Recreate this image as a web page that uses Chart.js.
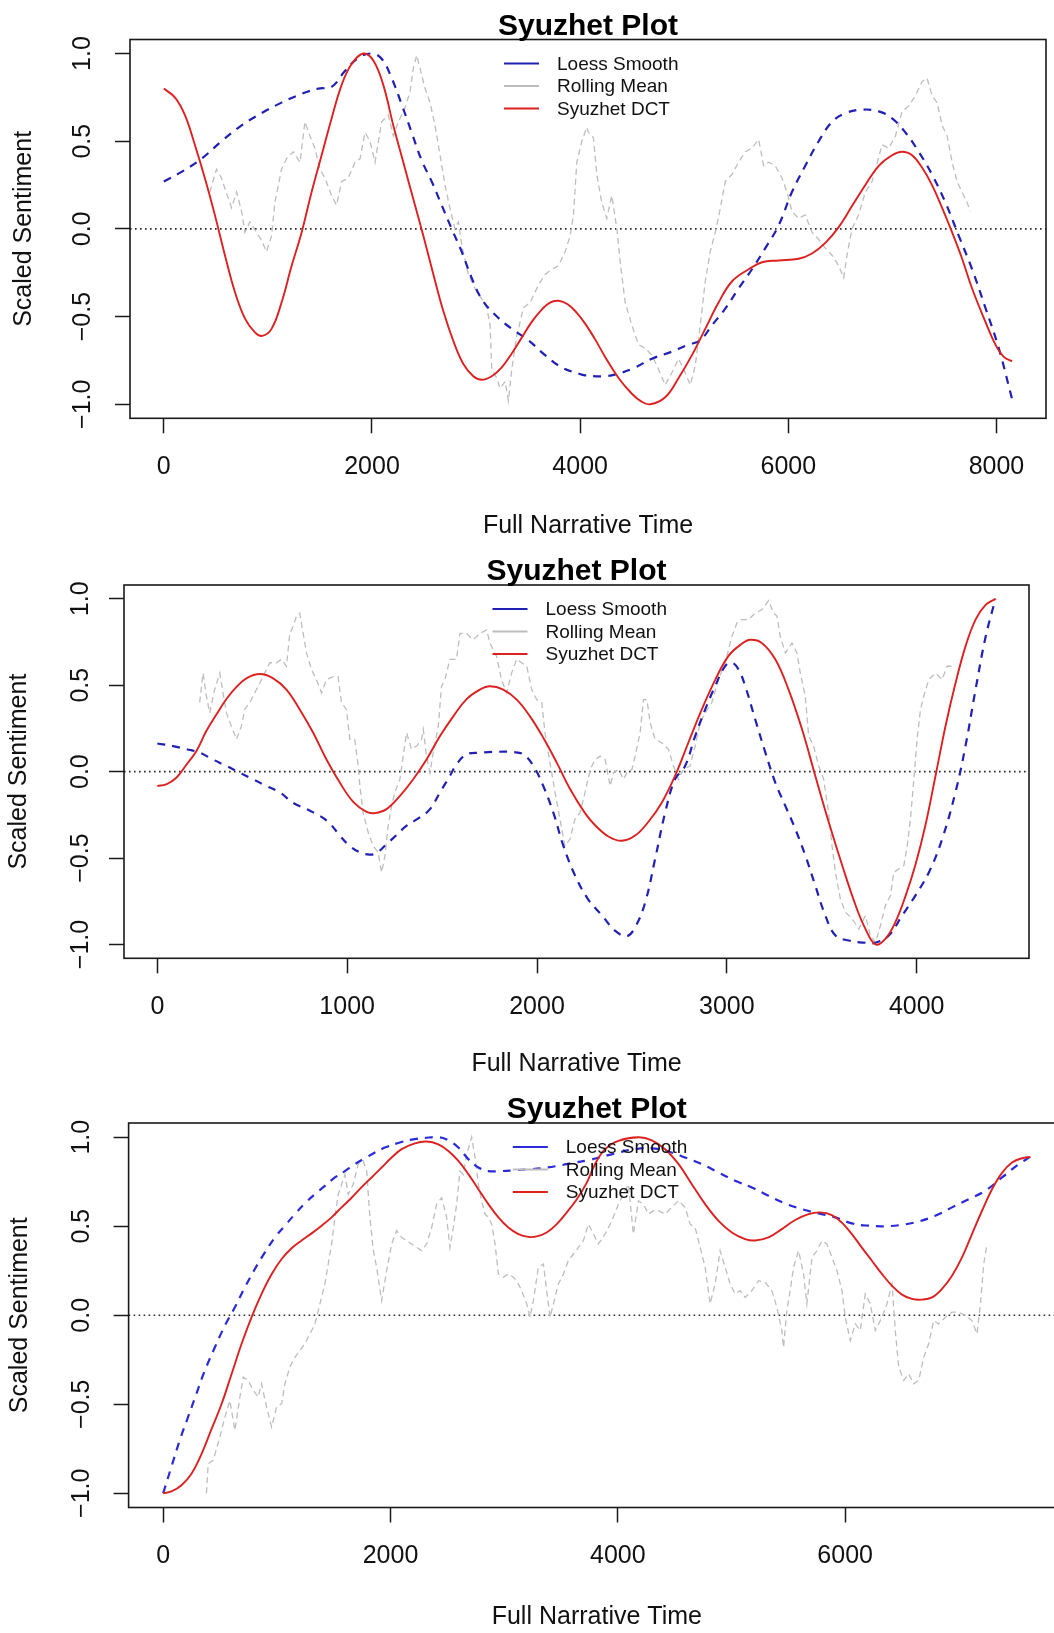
<!DOCTYPE html>
<html>
<head>
<meta charset="utf-8">
<title>Syuzhet Plot</title>
<script src="https://cdn.jsdelivr.net/npm/chart.js@4.4.1/dist/chart.umd.min.js"></script>
<style>
  html, body { margin: 0; padding: 0; background: #fff; width: 1054px; height: 1633px; overflow: hidden; position: relative; }
  canvas { position: absolute; left: 0; }
</style>
</head>
<body>
<canvas id="plot1"></canvas>
<canvas id="plot2"></canvas>
<canvas id="plot3"></canvas>
<script>
/* three syuzhet plots: loess smooth, rolling mean, DCT */

const plotTitle = "Syuzhet Plot";
const xTitle = "Full Narrative Time";
const yTitle = "Scaled Sentiment";
const legendOrder = ["Loess Smooth", "Rolling Mean", "Syuzhet DCT"];
const yTicks = [-1, -0.5, 0, 0.5, 1];
const yTickLabels = ["\u22121.0", "\u22120.5", "0.0", "0.5", "1.0"];

// ---------- panel 1
const p1Length = 8150;
const p1XTicks = [0, 2000, 4000, 6000, 8000];
const p1Dct = [[0,0.80],[106,0.75],[202,0.65],[298,0.48],[394,0.29],[490,0.08],[587,-0.15],[683,-0.36],[779,-0.51],[875,-0.59],[946,-0.61],[1035,-0.57],[1131,-0.42],[1228,-0.21],[1324,-0.02],[1420,0.21],[1516,0.42],[1612,0.63],[1708,0.82],[1804,0.94],[1917,1.0],[2013,0.96],[2109,0.82],[2205,0.59],[2301,0.38],[2397,0.17],[2494,-0.04],[2590,-0.26],[2686,-0.47],[2782,-0.64],[2878,-0.77],[2974,-0.84],[3054,-0.86],[3151,-0.84],[3247,-0.79],[3343,-0.71],[3439,-0.62],[3535,-0.53],[3631,-0.46],[3710,-0.42],[3792,-0.41],[3880,-0.43],[3970,-0.48],[4048,-0.54],[4144,-0.63],[4240,-0.73],[4369,-0.85],[4497,-0.94],[4590,-0.985],[4673,-1.0],[4817,-0.96],[4946,-0.85],[5074,-0.72],[5202,-0.57],[5330,-0.42],[5458,-0.30],[5619,-0.23],[5747,-0.19],[5907,-0.18],[6099,-0.17],[6228,-0.14],[6356,-0.08],[6484,0.01],[6612,0.13],[6740,0.25],[6869,0.36],[6997,0.42],[7093,0.44],[7189,0.42],[7285,0.35],[7381,0.25],[7478,0.12],[7574,-0.02],[7670,-0.17],[7766,-0.34],[7894,-0.53],[7990,-0.66],[8071,-0.73],[8150,-0.755]];
const p1Loess = [[0,0.27],[170,0.325],[362,0.40],[554,0.50],[747,0.59],[939,0.66],[1131,0.72],[1324,0.77],[1484,0.80],[1612,0.81],[1740,0.90],[1869,0.975],[1997,1.0],[2093,0.97],[2189,0.86],[2285,0.71],[2381,0.55],[2478,0.39],[2574,0.27],[2670,0.135],[2766,0.0],[2862,-0.13],[2958,-0.28],[3054,-0.40],[3183,-0.49],[3343,-0.57],[3503,-0.635],[3663,-0.72],[3824,-0.79],[3984,-0.825],[4048,-0.835],[4240,-0.84],[4369,-0.825],[4529,-0.79],[4689,-0.74],[4881,-0.70],[5042,-0.66],[5154,-0.635],[5266,-0.55],[5394,-0.455],[5522,-0.34],[5651,-0.23],[5779,-0.11],[5907,0.02],[6035,0.21],[6163,0.36],[6292,0.50],[6420,0.61],[6548,0.66],[6708,0.68],[6869,0.67],[6997,0.63],[7125,0.55],[7253,0.44],[7381,0.31],[7510,0.15],[7638,-0.04],[7766,-0.23],[7894,-0.45],[8022,-0.68],[8150,-0.97]];
const p1Roll = [[442,0.21],[506,0.34],[554,0.29],[587,0.23],[651,0.12],[699,0.21],[747,0.10],[779,-0.02],[827,0.04],[891,-0.02],[939,-0.065],[987,-0.13],[1035,-0.04],[1067,0.15],[1131,0.34],[1179,0.40],[1244,0.44],[1308,0.38],[1356,0.61],[1404,0.53],[1452,0.46],[1500,0.34],[1548,0.29],[1612,0.19],[1660,0.135],[1708,0.27],[1772,0.29],[1837,0.38],[1885,0.40],[1933,0.55],[1981,0.50],[2029,0.38],[2093,0.61],[2157,0.65],[2205,0.53],[2253,0.61],[2317,0.69],[2365,0.78],[2397,0.915],[2430,0.99],[2462,0.915],[2510,0.80],[2558,0.72],[2606,0.59],[2654,0.42],[2702,0.25],[2750,0.115],[2798,0.0],[2830,0.04],[2862,-0.09],[2926,-0.26],[2990,-0.34],[3054,-0.40],[3103,-0.45],[3135,-0.55],[3151,-0.80],[3199,-0.85],[3231,-0.91],[3279,-0.87],[3311,-0.98],[3343,-0.80],[3391,-0.61],[3455,-0.45],[3519,-0.42],[3599,-0.32],[3663,-0.26],[3728,-0.23],[3792,-0.21],[3856,-0.13],[3904,-0.04],[3936,0.08],[3968,0.38],[4016,0.50],[4064,0.58],[4080,0.55],[4128,0.52],[4160,0.31],[4208,0.15],[4256,0.06],[4304,0.19],[4353,0.0],[4385,-0.19],[4433,-0.42],[4497,-0.55],[4561,-0.66],[4625,-0.68],[4689,-0.72],[4753,-0.80],[4817,-0.89],[4881,-0.82],[4946,-0.74],[5010,-0.82],[5058,-0.89],[5106,-0.78],[5154,-0.55],[5202,-0.30],[5250,-0.13],[5298,-0.02],[5346,0.115],[5394,0.27],[5458,0.31],[5522,0.38],[5587,0.44],[5651,0.46],[5715,0.51],[5763,0.36],[5811,0.38],[5875,0.36],[5939,0.29],[5987,0.21],[6035,0.10],[6099,0.06],[6163,0.08],[6228,-0.02],[6292,-0.06],[6356,-0.11],[6420,-0.15],[6484,-0.21],[6532,-0.28],[6564,-0.15],[6612,0.0],[6676,0.08],[6740,0.21],[6805,0.27],[6837,0.34],[6901,0.48],[6965,0.46],[7029,0.53],[7093,0.67],[7157,0.70],[7221,0.76],[7285,0.84],[7333,0.86],[7381,0.76],[7429,0.72],[7478,0.59],[7526,0.53],[7574,0.38],[7622,0.27],[7670,0.21],[7718,0.15],[7750,0.10]];

// ---------- panel 2
const p2Length = 4415;
const p2XTicks = [0, 1000, 2000, 3000, 4000];
const p2Dct = [[0,-0.083],[47,-0.073],[100,-0.035],[153,0.04],[206,0.12],[258,0.235],[311,0.33],[364,0.42],[417,0.49],[469,0.54],[540,0.565],[610,0.54],[680,0.475],[750,0.36],[821,0.225],[891,0.07],[961,-0.063],[1032,-0.175],[1102,-0.233],[1146,-0.24],[1207,-0.217],[1278,-0.14],[1348,-0.044],[1418,0.07],[1489,0.206],[1559,0.32],[1629,0.42],[1699,0.475],[1752,0.494],[1822,0.475],[1893,0.417],[1963,0.32],[2033,0.196],[2104,0.052],[2174,-0.10],[2253,-0.24],[2306,-0.31],[2376,-0.375],[2446,-0.40],[2517,-0.37],[2587,-0.29],[2657,-0.18],[2727,-0.025],[2798,0.17],[2868,0.36],[2938,0.53],[3009,0.67],[3079,0.74],[3123,0.763],[3184,0.745],[3255,0.65],[3325,0.475],[3396,0.245],[3466,-0.025],[3536,-0.29],[3607,-0.54],[3677,-0.77],[3730,-0.91],[3783,-1.0],[3835,-0.967],[3888,-0.87],[3941,-0.72],[3993,-0.54],[4046,-0.31],[4099,-0.025],[4151,0.26],[4204,0.51],[4257,0.725],[4310,0.88],[4363,0.965],[4415,1.0]];
const p2Loess = [[0,0.163],[83,0.148],[153,0.13],[223,0.11],[293,0.07],[364,0.033],[434,-0.006],[504,-0.044],[575,-0.083],[645,-0.12],[715,-0.18],[786,-0.217],[856,-0.256],[909,-0.30],[961,-0.37],[1014,-0.43],[1067,-0.467],[1119,-0.48],[1155,-0.47],[1207,-0.42],[1260,-0.367],[1313,-0.313],[1383,-0.265],[1436,-0.217],[1489,-0.12],[1541,-0.025],[1576,0.042],[1629,0.10],[1699,0.11],[1787,0.115],[1875,0.113],[1928,0.10],[1981,0.033],[2033,-0.083],[2086,-0.237],[2139,-0.43],[2200,-0.60],[2270,-0.74],[2341,-0.83],[2411,-0.92],[2473,-0.952],[2517,-0.90],[2570,-0.756],[2622,-0.506],[2675,-0.237],[2727,-0.044],[2780,0.033],[2833,0.206],[2886,0.36],[2938,0.494],[2991,0.61],[3027,0.63],[3062,0.59],[3097,0.494],[3150,0.30],[3203,0.11],[3255,-0.063],[3308,-0.198],[3361,-0.333],[3414,-0.487],[3466,-0.66],[3519,-0.833],[3572,-0.948],[3642,-0.977],[3730,-0.99],[3783,-0.99],[3853,-0.948],[3923,-0.833],[3993,-0.717],[4064,-0.583],[4134,-0.39],[4204,-0.12],[4257,0.148],[4310,0.475],[4363,0.78],[4415,1.0]];
const p2Roll = [[223,0.40],[241,0.57],[258,0.44],[276,0.34],[302,0.475],[329,0.57],[346,0.456],[364,0.34],[390,0.263],[417,0.187],[443,0.263],[460,0.36],[487,0.40],[522,0.475],[557,0.55],[592,0.63],[627,0.63],[654,0.65],[680,0.61],[698,0.80],[715,0.84],[733,0.90],[750,0.917],[768,0.80],[786,0.687],[812,0.59],[838,0.533],[865,0.456],[891,0.533],[926,0.55],[952,0.55],[970,0.40],[996,0.36],[1014,0.187],[1040,0.187],[1058,0.033],[1067,-0.083],[1084,-0.237],[1111,-0.352],[1137,-0.43],[1163,-0.467],[1181,-0.583],[1199,-0.487],[1216,-0.313],[1234,-0.198],[1251,-0.12],[1278,-0.044],[1295,0.09],[1313,0.225],[1339,0.13],[1366,0.148],[1392,0.187],[1401,0.244],[1418,0.09],[1436,-0.006],[1453,0.11],[1480,0.263],[1497,0.494],[1515,0.533],[1541,0.65],[1576,0.65],[1594,0.80],[1629,0.80],[1664,0.763],[1699,0.80],[1735,0.82],[1752,0.744],[1787,0.667],[1813,0.533],[1840,0.456],[1866,0.57],[1893,0.65],[1919,0.63],[1946,0.61],[1972,0.475],[1998,0.417],[2025,0.40],[2042,0.225],[2068,0.052],[2095,-0.12],[2121,-0.275],[2147,-0.43],[2174,-0.39],[2200,-0.275],[2227,-0.237],[2253,-0.12],[2280,0.013],[2306,0.07],[2332,0.09],[2359,0.07],[2385,-0.083],[2403,-0.006],[2429,0.013],[2456,-0.044],[2473,-0.006],[2500,0.013],[2517,0.09],[2543,0.225],[2561,0.417],[2579,0.417],[2596,0.283],[2622,0.187],[2657,0.167],[2692,0.13],[2719,0.033],[2745,-0.044],[2771,0.013],[2806,0.033],[2833,0.148],[2859,0.283],[2886,0.34],[2921,0.40],[2956,0.533],[2991,0.63],[3027,0.783],[3053,0.86],[3079,0.88],[3114,0.88],[3149,0.917],[3184,0.937],[3220,0.99],[3246,0.917],[3264,0.90],[3281,0.783],[3308,0.687],[3343,0.744],[3369,0.687],[3387,0.57],[3413,0.437],[3431,0.206],[3457,0.148],[3484,0.033],[3510,-0.044],[3536,-0.237],[3554,-0.43],[3572,-0.583],[3598,-0.737],[3624,-0.813],[3660,-0.852],[3695,-0.91],[3730,-0.833],[3756,-0.948],[3783,-0.99],[3809,-0.89],[3835,-0.775],[3862,-0.717],[3879,-0.583],[3906,-0.563],[3932,-0.544],[3950,-0.43],[3967,-0.275],[3985,-0.044],[4002,0.187],[4020,0.36],[4037,0.437],[4064,0.533],[4099,0.57],[4134,0.533],[4160,0.61],[4183,0.61]];

// ---------- panel 3
const p3Length = 7629;
const p3XTicks = [0, 2000, 4000, 6000];
const p3Dct = [[0,-1.0],[73,-0.99],[161,-0.955],[249,-0.89],[337,-0.78],[425,-0.64],[513,-0.50],[602,-0.33],[690,-0.16],[778,-0.01],[866,0.12],[954,0.23],[1042,0.316],[1130,0.376],[1218,0.42],[1306,0.46],[1394,0.503],[1482,0.55],[1570,0.606],[1658,0.66],[1746,0.72],[1834,0.774],[1922,0.83],[2010,0.886],[2098,0.933],[2215,0.966],[2318,0.976],[2421,0.96],[2509,0.923],[2597,0.867],[2685,0.793],[2773,0.708],[2861,0.624],[2949,0.55],[3037,0.493],[3125,0.456],[3213,0.44],[3286,0.443],[3374,0.465],[3463,0.512],[3551,0.578],[3639,0.652],[3727,0.745],[3800,0.85],[3888,0.933],[4005,0.98],[4181,1.0],[4299,0.983],[4416,0.933],[4533,0.85],[4651,0.736],[4768,0.624],[4886,0.53],[5003,0.465],[5120,0.428],[5208,0.42],[5326,0.437],[5443,0.484],[5560,0.535],[5678,0.568],[5780,0.578],[5883,0.563],[5971,0.52],[6059,0.456],[6147,0.38],[6235,0.306],[6323,0.232],[6411,0.166],[6500,0.116],[6588,0.092],[6676,0.088],[6764,0.10],[6852,0.148],[6940,0.222],[7028,0.325],[7116,0.456],[7204,0.587],[7292,0.708],[7380,0.80],[7468,0.858],[7556,0.882],[7629,0.89]];
const p3Loess = [[0,-1.0],[73,-0.85],[147,-0.70],[220,-0.57],[293,-0.44],[367,-0.31],[455,-0.18],[543,-0.058],[631,0.045],[719,0.157],[807,0.26],[895,0.353],[983,0.437],[1071,0.503],[1159,0.568],[1247,0.628],[1335,0.68],[1423,0.727],[1511,0.774],[1599,0.81],[1687,0.849],[1775,0.882],[1863,0.914],[1951,0.942],[2069,0.968],[2186,0.987],[2303,0.996],[2421,1.0],[2509,0.983],[2597,0.942],[2685,0.877],[2773,0.83],[2861,0.81],[2978,0.81],[3096,0.815],[3213,0.82],[3330,0.826],[3477,0.84],[3624,0.858],[3741,0.871],[3859,0.89],[4005,0.914],[4152,0.933],[4299,0.938],[4445,0.92],[4592,0.886],[4739,0.849],[4886,0.802],[5032,0.755],[5179,0.718],[5326,0.671],[5472,0.628],[5619,0.596],[5766,0.572],[5913,0.55],[6059,0.516],[6206,0.503],[6353,0.50],[6500,0.508],[6647,0.527],[6793,0.559],[6940,0.606],[7087,0.652],[7234,0.70],[7380,0.774],[7527,0.849],[7629,0.89]];
const p3Roll = [[381,-1.0],[396,-0.834],[440,-0.815],[499,-0.684],[543,-0.572],[587,-0.479],[631,-0.647],[675,-0.46],[704,-0.348],[748,-0.366],[792,-0.422],[836,-0.46],[865,-0.385],[910,-0.516],[954,-0.628],[998,-0.516],[1042,-0.497],[1071,-0.385],[1115,-0.29],[1159,-0.236],[1203,-0.198],[1247,-0.16],[1291,-0.105],[1335,-0.049],[1379,0.064],[1423,0.176],[1452,0.288],[1482,0.40],[1511,0.55],[1540,0.68],[1570,0.736],[1599,0.79],[1628,0.68],[1672,0.736],[1716,0.85],[1760,0.867],[1790,0.81],[1819,0.55],[1849,0.363],[1878,0.27],[1922,0.082],[1966,0.25],[2010,0.40],[2054,0.475],[2098,0.437],[2142,0.419],[2186,0.40],[2230,0.381],[2274,0.363],[2318,0.40],[2362,0.493],[2406,0.624],[2450,0.66],[2494,0.55],[2523,0.381],[2553,0.493],[2582,0.624],[2611,0.81],[2641,0.79],[2670,0.905],[2714,1.0],[2744,0.886],[2773,0.736],[2802,0.643],[2832,0.568],[2861,0.55],[2890,0.512],[2920,0.40],[2949,0.232],[2993,0.213],[3037,0.232],[3081,0.213],[3110,0.194],[3154,0.138],[3198,0.064],[3227,-0.011],[3257,0.082],[3301,0.27],[3345,0.288],[3374,0.138],[3404,-0.011],[3433,0.064],[3477,0.176],[3521,0.232],[3565,0.307],[3609,0.344],[3653,0.381],[3697,0.419],[3741,0.512],[3771,0.475],[3829,0.40],[3888,0.456],[3947,0.53],[4005,0.624],[4049,0.68],[4093,0.736],[4137,0.456],[4181,0.643],[4225,0.624],[4269,0.568],[4313,0.587],[4357,0.587],[4416,0.568],[4474,0.606],[4533,0.643],[4592,0.606],[4636,0.512],[4680,0.493],[4724,0.381],[4768,0.27],[4812,0.064],[4856,0.176],[4900,0.363],[4944,0.27],[4988,0.176],[5032,0.12],[5076,0.138],[5120,0.10],[5179,0.138],[5238,0.194],[5296,0.185],[5355,0.138],[5399,0.045],[5443,-0.086],[5458,-0.18],[5487,0.026],[5516,0.138],[5546,0.27],[5590,0.363],[5634,0.232],[5663,0.064],[5708,0.325],[5752,0.363],[5796,0.419],[5840,0.40],[5884,0.325],[5928,0.25],[5972,0.138],[6001,-0.011],[6045,-0.142],[6089,-0.049],[6133,-0.086],[6177,0.12],[6221,0.064],[6265,-0.086],[6324,-0.011],[6368,0.064],[6412,0.176],[6441,-0.086],[6471,-0.29],[6515,-0.366],[6559,-0.329],[6603,-0.385],[6647,-0.366],[6691,-0.236],[6735,-0.16],[6779,-0.03],[6823,-0.049],[6882,-0.011],[6940,0.017],[6999,0.017],[7058,-0.002],[7116,-0.03],[7160,-0.105],[7190,0.064],[7219,0.288],[7248,0.40]];

// layout of each panel on the page (page pixels), kept apart from the data
const CANVAS_H = 560;
const panels = [
  { id: "plot1", top: 0,    width: 1054, box: { l: 130,   r: 1046, t: 39.5, b: 418.3 }, len: p1Length, xTicks: p1XTicks, dct: p1Dct, loess: p1Loess, roll: p1Roll, yTitleX: 24, yLabX: 83, xTitleOff: 108, blue: "#2020b4" },
  { id: "plot2", top: 540,  width: 1054, box: { l: 124,   r: 1029, t: 585,  b: 958.3 }, len: p2Length, xTicks: p2XTicks, dct: p2Dct, loess: p2Loess, roll: p2Roll, yTitleX: 19, yLabX: 81, xTitleOff: 106, blue: "#2020b4" },
  { id: "plot3", top: 1085, width: 1080, box: { l: 128.6, r: 1065, t: 1123, b: 1507.5 }, len: p3Length, xTicks: p3XTicks, dct: p3Dct, loess: p3Loess, roll: p3Roll, yTitleX: 20, yLabX: 82, xTitleOff: 110, blue: "#2a2ad8" },
];

const FONT = "'Liberation Sans', Arial, Helvetica, sans-serif";
const INK = "#111";
const RED = "#dd2020", GREY = "#bdbdbd";

Chart.defaults.font.family = FONT;
Chart.defaults.color = INK;

// R-style extras: dotted zero line, full box, rotated y labels, title, legend
const rPlot = {
  id: "rPlot",
  beforeDatasetsDraw(chart) {
    const { ctx, chartArea: a } = chart;
    const y0 = chart.scales.y.getPixelForValue(0);
    ctx.save();
    ctx.strokeStyle = "#2a2a2a"; ctx.lineWidth = 1.6; ctx.setLineDash([1.6, 3.4]);
    ctx.beginPath(); ctx.moveTo(a.left, y0); ctx.lineTo(a.right, y0); ctx.stroke();
    ctx.restore();
  },
  afterDraw(chart, args, o) {
    const { ctx, chartArea: a } = chart;
    const ys = chart.scales.y;
    ctx.save();
    ctx.strokeStyle = "#1a1a1a"; ctx.lineWidth = 1.6;
    ctx.strokeRect(a.left, a.top, a.right - a.left, a.bottom - a.top);

    ctx.fillStyle = INK; ctx.font = `25px ${FONT}`;
    ctx.textAlign = "center"; ctx.textBaseline = "middle";
    yTicks.forEach((v, i) => {
      ctx.save();
      ctx.translate(o.yLabX, ys.getPixelForValue(v));
      ctx.rotate(-Math.PI / 2);
      ctx.fillText(yTickLabels[i], 0, 0);
      ctx.restore();
    });

    const cx = (a.left + a.right) / 2;
    ctx.fillStyle = "#000"; ctx.font = `bold 30px ${FONT}`;
    ctx.textBaseline = "alphabetic";
    ctx.fillText(plotTitle, cx, a.top - 5);

    // legend("top", bty = "n")
    ctx.font = `19px ${FONT}`; ctx.textAlign = "left"; ctx.textBaseline = "middle";
    ctx.setLineDash([]); ctx.lineWidth = 2;
    legendOrder.forEach((lab, i) => {
      const ds = chart.data.datasets.find(d => d.label === lab);
      const x0 = cx - 84, y = a.top + 24 + i * 22.5;
      ctx.strokeStyle = ds.borderColor;
      ctx.beginPath(); ctx.moveTo(x0, y); ctx.lineTo(x0 + 35, y); ctx.stroke();
      ctx.fillStyle = INK;
      ctx.fillText(lab, x0 + 53, y + 1);
    });
    ctx.restore();
  }
};

const toXY = pairs => pairs.map(([x, y]) => ({ x, y }));

function tickGrid() {
  return { display: true, drawOnChartArea: false, drawTicks: true, tickLength: 15, tickColor: "#1a1a1a", tickWidth: 1.5 };
}

function makePanel(p) {
  const cv = document.getElementById(p.id);
  cv.width = p.width; cv.height = CANVAS_H;
  cv.style.top = p.top + "px";
  const boxT = p.box.t - p.top, boxB = p.box.b - p.top;
  const xH = p.xTitleOff + 15;
  const pad = 0.04 * (p.len - 1);   // R's xaxs = "r"

  return new Chart(cv.getContext("2d"), {
    type: "line",
    data: {
      datasets: [
        { label: "Syuzhet DCT", data: toXY(p.dct), borderColor: RED, borderWidth: 1.9, pointRadius: 0, tension: 0.4, fill: false },
        { label: "Loess Smooth", data: toXY(p.loess), borderColor: p.blue, borderWidth: 2.2, borderDash: [8, 7], pointRadius: 0, tension: 0.4, fill: false },
        { label: "Rolling Mean", data: toXY(p.roll), borderColor: GREY, borderWidth: 1.3, borderDash: [6, 4], pointRadius: 0, tension: 0, fill: false },
      ]
    },
    options: {
      responsive: false, animation: false, devicePixelRatio: 1, events: [],
      layout: { padding: { left: p.yTitleX - 15, right: p.width - p.box.r, top: boxT, bottom: CANVAS_H - boxB - xH } },
      scales: {
        x: {
          type: "linear", min: 1 - pad, max: p.len + pad,
          afterBuildTicks: s => { s.ticks = p.xTicks.map(v => ({ value: v })); },
          afterFit: s => { s.height = xH; },
          grid: tickGrid(), border: { display: false },
          ticks: { color: INK, font: { size: 25 }, padding: 19, maxRotation: 0, autoSkip: false, callback: v => String(v) },
          title: { display: true, text: xTitle, color: INK, font: { size: 25 }, padding: 0 }
        },
        y: {
          min: -1.08, max: 1.08,
          afterBuildTicks: s => { s.ticks = yTicks.map(v => ({ value: v })); },
          afterFit: s => { s.width = p.box.l - (p.yTitleX - 15); },
          grid: tickGrid(), border: { display: false },
          ticks: { display: false },
          title: { display: true, text: yTitle, color: INK, font: { size: 25 }, padding: 0 }
        }
      },
      plugins: { legend: { display: false }, tooltip: { enabled: false }, rPlot: { yLabX: p.yLabX } }
    },
    plugins: [rPlot]
  });
}

panels.forEach(makePanel);
</script>
</body>
</html>
